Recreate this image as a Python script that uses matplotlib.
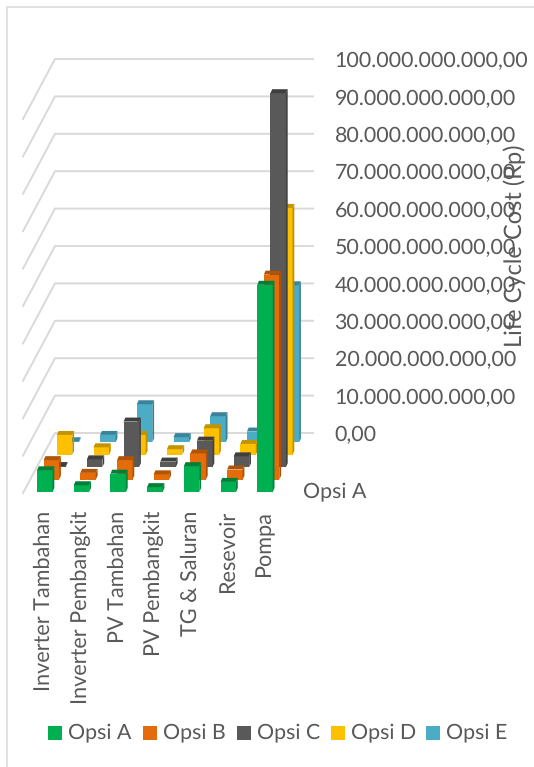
import matplotlib
matplotlib.use("Agg")
import matplotlib.pyplot as plt
from matplotlib.patches import Polygon, Rectangle

plt.rcParams.update({'font.family': ['Lato', 'DejaVu Sans'], 'text.hinting': 'none'})

CATEGORIES = ["Inverter Tambahan", "Inverter Pembangkit", "PV Tambahan",
              "PV Pembangkit", "TG & Saluran", "Resevoir", "Pompa"]
SERIES = ["Opsi A", "Opsi B", "Opsi C", "Opsi D", "Opsi E"]

# values in billions of rupiah
OPSI_A = [5.8, 1.8, 4.9, 1.3, 6.9, 2.7, 55.4]
OPSI_B = [5.2, 1.8, 5.2, 1.4, 7.0, 2.7, 54.8]
OPSI_C = [0.3, 2.1, 12.2, 1.5, 7.1, 2.9, 100.0]
OPSI_D = [5.3, 2.0, 5.3, 1.5, 7.1, 2.9, 66.0]
OPSI_E = [0.3, 2.0, 10.2, 1.4, 7.0, 2.9, 42.0]
VALUES = [OPSI_A, OPSI_B, OPSI_C, OPSI_D, OPSI_E]

TICKS = [0, 10, 20, 30, 40, 50, 60, 70, 80, 90, 100]
TICK_LABELS = ["0,00", "10.000.000.000,00", "20.000.000.000,00", "30.000.000.000,00",
               "40.000.000.000,00", "50.000.000.000,00", "60.000.000.000,00",
               "70.000.000.000,00", "80.000.000.000,00", "90.000.000.000,00",
               "100.000.000.000,00"]

FRONT = ["#00B050", "#E46C0A", "#595959", "#FFC000", "#4BACC6"]
SIDE = ["#00843C", "#AB5108", "#434343", "#BF9000", "#388195"]
TOP = ["#007F39", "#B05408", "#3F3F3F", "#C49400", "#39849A"]
GRID = "#D9D9D9"
TEXT = "#595959"

# oblique projection: pixels per unit along each axis
X0, Y0 = 37.0, 492.0
CAT_STEP = 36.7
ROW_DX, ROW_DY = 6.6, 12.4
PX_PER_UNIT = 3.74
BAR_W = 15.5
CAP_DX, CAP_DY = 1.8, 4.0
WALL_X0, WALL_X1 = 55.0, 313.0
WALL_Y0 = 433.0
SIDE_DX, SIDE_DY = 32.0, 60.0


def bar3d(ax, cat, row, value):
    x = X0 + cat * CAT_STEP + row * ROW_DX
    base = Y0 - row * ROW_DY
    top = base - value * PX_PER_UNIT
    z = 90 - row * 10 + cat * 0.1
    ax.add_patch(Rectangle((x, top), BAR_W, base - top, fc=FRONT[row], ec="none", zorder=z))
    ax.add_patch(Polygon([(x + BAR_W, top), (x + BAR_W + CAP_DX, top - CAP_DY),
                          (x + BAR_W + CAP_DX, base - CAP_DY), (x + BAR_W, base)],
                         fc=SIDE[row], ec="none", zorder=z))
    ax.add_patch(Polygon([(x, top), (x + CAP_DX, top - CAP_DY),
                          (x + BAR_W + CAP_DX, top - CAP_DY), (x + BAR_W, top)],
                         fc=TOP[row], ec="none", zorder=z))


fig = plt.figure(figsize=(5.34, 7.67), dpi=100)
ax = fig.add_axes([0, 0, 1, 1])
ax.set_xlim(0, 534)
ax.set_ylim(767, 0)
ax.axis("off")

# chart frame, the right and bottom edges are cropped away
ax.plot([534, 7, 7], [6.5, 6.5, 767], color=GRID, lw=1.1, zorder=1)

# back and side wall gridlines
for tick, label in zip(TICKS, TICK_LABELS):
    y = WALL_Y0 - tick * PX_PER_UNIT
    ax.plot([WALL_X0 - SIDE_DX, WALL_X0, WALL_X1], [y + SIDE_DY, y, y],
            color=GRID, lw=1.4, solid_joinstyle="round", zorder=2)
    ax.text(334.5, y + 2.5, label, color=TEXT, fontsize=15.4, va="center", ha="left", zorder=100)

# draw back rows first so the front rows overlap them
for row in range(len(SERIES) - 1, -1, -1):
    for cat in range(len(CATEGORIES)):
        bar3d(ax, cat, row, VALUES[row][cat])

for cat, name in enumerate(CATEGORIES):
    ax.text(X0 + BAR_W / 2 + cat * CAT_STEP - 1, 511, name, rotation=90, color=TEXT,
            fontsize=15.6, ha="center", va="top", zorder=100)

ax.text(303, 491, SERIES[0], color=TEXT, fontsize=15.4, va="center", ha="left", zorder=100)
ax.text(515, 246, "Life Cycle Cost (Rp)", rotation=90, color=TEXT, fontsize=17,
        ha="center", va="center", zorder=110)

# legend
for x, tx, name, color in zip([48, 143, 237, 331, 426], [68, 163, 257, 351, 446], SERIES, FRONT):
    ax.add_patch(Rectangle((x, 725.5), 14, 14, fc=color, ec="none"))
    ax.text(tx, 732.5, name, color=TEXT, fontsize=15.4, va="center", ha="left")

fig.savefig("out.png", dpi=100)
